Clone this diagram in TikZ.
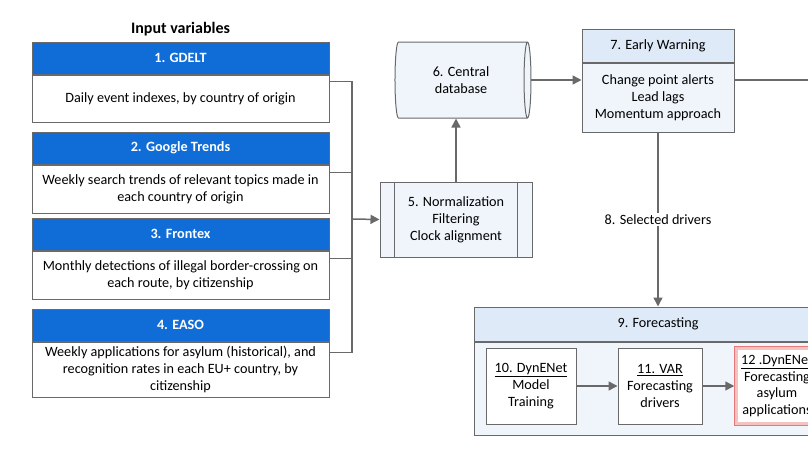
\documentclass[tikz,border=0pt]{standalone}
\usepackage{fontspec}
\setmainfont{Carlito}
\usetikzlibrary{positioning, shapes.geometric, calc, arrows.meta}
\definecolor{hdrblue}{RGB}{16,108,214}
\definecolor{lineg}{RGB}{105,105,105}
\definecolor{paleblue}{RGB}{240,245,252}
\definecolor{midblue}{RGB}{222,234,248}
\definecolor{glowred}{RGB}{232,120,120}
\newcommand{\txt}{\fontsize{14.2}{16.8}\selectfont}

\begin{document}
\begin{tikzpicture}[x=1pt, y=-1pt, line width=1pt,
    every node/.style={font=\txt, align=center, inner sep=0},
    hdr/.style={draw=lineg, fill=hdrblue, text=white, font=\txt\bfseries, minimum width=297, minimum height=32},
    body/.style={draw=lineg, fill=white, minimum width=297, minimum height=48},
    pale/.style={draw=lineg, fill=paleblue},
    conn/.style={draw=lineg, line width=1.5pt},
    arr/.style={conn, -{Triangle[length=9pt, width=9pt]}}]
    \useasboundingbox (0,0) rectangle (808,455);
    \clip (0,0) rectangle (808,455);
    \node[font=\fontsize{16}{19}\selectfont\bfseries] (title) at (180.5,29) {Input variables};
    \node[hdr] (g1h) at (180.5,58) {1. GDELT};
    \node[body, minimum height=47, below=0pt of g1h] (g1) {Daily event indexes, by country of origin};
    \node[hdr] (g2h) at (180.5,148) {2. Google Trends};
    \node[body, below=0pt of g2h] (g2) {Weekly search trends of relevant topics made in\\each country of origin};
    \node[hdr] (g3h) at (180.5,234) {3. Frontex};
    \node[body, below=0pt of g3h] (g3) {Monthly detections of illegal border-crossing on\\each route, by citizenship};
    \node[hdr] (g4h) at (180.5,325) {4. EASO};
    \node[body, minimum height=55, below=0pt of g4h] (g4) {Weekly applications for asylum (historical), and\\recognition rates in each EU+ country, by\\citizenship};
    \node[pale, minimum width=152, minimum height=75] (n5) at (456,219.5) {5. Normalization\\Filtering\\Clock alignment};
    \draw[lineg] ($(n5.north west)+(15,0)$) -- ($(n5.south west)+(15,0)$);
    \draw[lineg] ($(n5.north east)+(-15,0)$) -- ($(n5.south east)+(-15,0)$);
    \node[cylinder, draw=lineg, fill=paleblue, shape aspect=0.26, minimum width=76, minimum height=136] (n6) at (461,80) {6. Central\\database};
    \node[draw=lineg, fill=midblue, minimum width=152, minimum height=33] (n7h) at (658,45.5) {7. Early Warning};
    \node[pale, minimum width=152, minimum height=69, below=0pt of n7h] (n7) {Change point alerts\\Lead lags\\Momentum approach};
    \node[draw=lineg, fill=midblue, minimum width=368, minimum height=34] (f9h) at (658,324) {9. Forecasting};
    \node[pale, minimum width=368, minimum height=93, below=0pt of f9h] (f9) {};
    \node[draw=lineg, fill=white, minimum width=90, minimum height=76] (n10) at (531,386) {\underline{10. DynENet}\\Model\\Training};
    \node[draw=lineg, fill=white, minimum width=84, minimum height=76] (n11) at (660,386) {\underline{11. VAR}\\Forecasting\\drivers};
    \node[draw=glowred!45, line width=3.5pt, fill=white, minimum width=82, minimum height=76] (n12) at (777,386) {\underline{12 .DynENet}\\Forecasting\\asylum\\applications};
    \draw[glowred, line width=0.8pt] (n12.north west) rectangle (n12.south east);
    \coordinate (bus) at (352,219);
    \coordinate (out7) at (820,80);
    \draw[conn] ($(g1.north east)+(0,7)$) -| (bus);
    \draw[conn] ($(g2.north east)+(0,8)$) -| (bus);
    \draw[conn] ($(g3.north east)+(0,8)$) -| (bus);
    \draw[conn] ($(g4.north east)+(0,11)$) -| (bus);
    \draw[arr] (bus) -- (n5.west);
    \draw[arr] (n5.north) -- (n5.north |- n6.south);
    \draw[arr] (n6.east) -- (n6.east -| n7.west);
    \draw[conn] (n7.east |- out7) -- (out7);
    \draw[arr] (n7.south) -- node[fill=white, inner sep=2pt] (sel) {8. Selected drivers} (f9h.north);
    \draw[arr] (n10.east) -- (n11.west);
    \draw[arr] (n11.east) -- (n12.west);
\end{tikzpicture}
\end{document}
